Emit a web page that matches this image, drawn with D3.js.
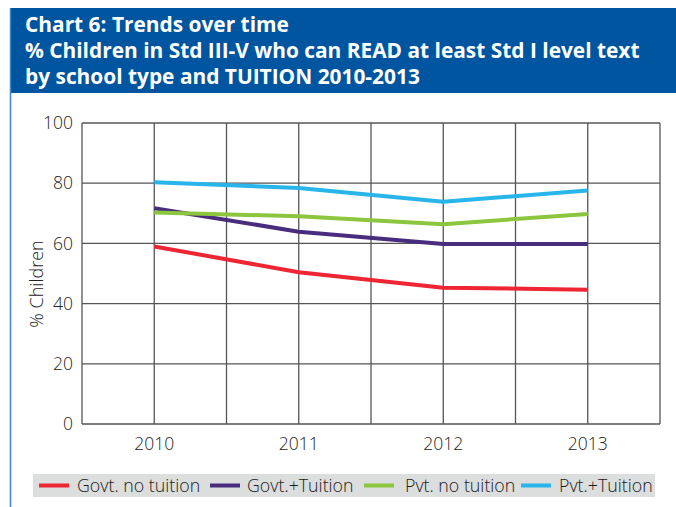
<!DOCTYPE html>
<html><head><meta charset="utf-8">
<script src="https://cdn.jsdelivr.net/npm/d3@7"></script>
<style>body{margin:0;background:#fff}svg{display:block}text{font-family:"Open Sans",sans-serif}</style>
</head><body><svg id="c" width="676" height="507"></svg>
<script>
const years = ["2010","2011","2012","2013"];
const seriesNames = ["Govt. no tuition","Govt.+Tuition","Pvt. no tuition","Pvt.+Tuition"];
const govtNoTuition = [59.0, 50.4, 45.3, 44.6];
const govtTuition   = [71.7, 63.9, 59.8, 59.8];
const pvtNoTuition  = [70.3, 69.0, 66.4, 69.8];
const pvtTuition    = [80.3, 78.4, 73.8, 77.6];
const yTicks = [0,20,40,60,80,100];
const colors = ["#ee2533","#4a2c7e","#8cc63f","#27b5ea"];
const titleLines = ["Chart 6: Trends over time","% Children in Std III-V who can READ at least Std I level text","by school type and TUITION 2010-2013"];

const svg = d3.select("#c");
svg.append("rect").attr("x",10).attr("y",8).attr("width",666).attr("height",85).attr("fill","#0055a0");
svg.append("line").attr("x1",10.5).attr("x2",10.5).attr("y1",8).attr("y2",507).attr("stroke","#3f86c8").attr("stroke-width",1.5);
const tY=[32,58,84];
const tt = titleLines.map((t,i)=>svg.append("text").attr("x",25).attr("y",tY[i]).attr("fill","#fff")
  .attr("font-weight","bold").attr("font-size",20).text(t));
const w2 = tt[1].node().getComputedTextLength();
const fs = 20*615/w2;
tt.forEach(t=>t.attr("font-size",fs));

const L=82,R=660,T=123,B=424;
const x = d3.scaleBand().domain(years).range([L,R]);
const y = d3.scaleLinear().domain([0,100]).range([B,T]);
const g = svg.append("g");
g.selectAll(".hg").data(yTicks).join("line").attr("x1",L).attr("x2",R)
 .attr("y1",d=>y(d)).attr("y2",d=>y(d)).attr("stroke","#555").attr("stroke-width",1.3);
const vx=[];
years.forEach(yr=>{vx.push(x(yr));vx.push(x(yr)+x.bandwidth()/2);});
vx.push(R);
g.selectAll(".vg").data(vx).join("line").attr("x1",d=>d).attr("x2",d=>d)
 .attr("y1",T).attr("y2",B).attr("stroke","#555").attr("stroke-width",1.3);
const yAxis = d3.axisLeft(y).tickValues(yTicks).tickSize(0).tickPadding(9);
const ya = svg.append("g").attr("transform",`translate(${L},0)`).call(yAxis);
ya.select(".domain").remove();
ya.selectAll("text").attr("font-size",17.5).attr("fill","#222").attr("font-family","Open Sans").attr("font-weight",300);
const xAxis = d3.axisBottom(x).tickSize(0).tickPadding(14);
const xa = svg.append("g").attr("transform",`translate(0,${B})`).call(xAxis);
xa.select(".domain").remove();
xa.selectAll("text").attr("font-size",17.5).attr("fill","#222").attr("font-family","Open Sans").attr("font-weight",300);
svg.append("text").attr("transform","translate(43,284) rotate(-90)").attr("text-anchor","middle")
 .attr("font-size",18).attr("fill","#222").attr("font-weight",300).text("% Children");

const data=[govtNoTuition,govtTuition,pvtNoTuition,pvtTuition];
const line=d3.line().x((d,i)=>x(years[i])+x.bandwidth()/2).y(d=>y(d));
data.forEach((s,i)=>{
  svg.append("path").attr("d",line(s)).attr("fill","none").attr("stroke",colors[i]).attr("stroke-width",4).attr("stroke-linejoin","round");
});

svg.append("rect").attr("x",33).attr("y",474).attr("width",622).attr("height",23).attr("fill","#dcdddd");
const lx=[39,210,364,521], tx=[77,247,405,559];
seriesNames.forEach((n,i)=>{
  svg.append("line").attr("x1",lx[i]).attr("x2",lx[i]+30).attr("y1",485.5).attr("y2",485.5).attr("stroke",colors[i]).attr("stroke-width",4);
  svg.append("text").attr("x",tx[i]).attr("y",492).attr("font-size",17.8).attr("fill","#1a1a1a").attr("font-weight",350).text(n);
});
</script></body></html>
